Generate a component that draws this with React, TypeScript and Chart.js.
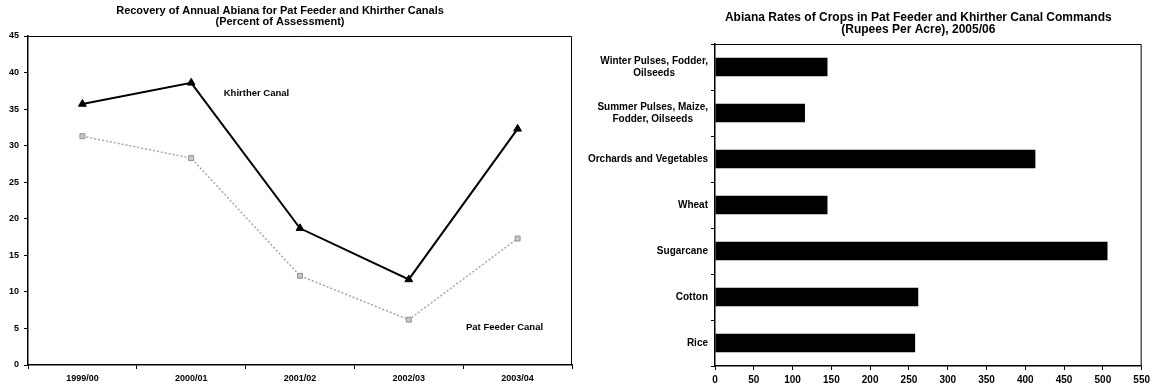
import React, { useEffect, useRef } from "react";
import { Chart, registerables } from "chart.js";

Chart.register(...registerables);

// ---------- Data ----------
const years = ["1999/00", "2000/01", "2001/02", "2002/03", "2003/04"];
const khirther = [35.7, 38.6, 18.7, 11.7, 32.3];
const patFeeder = [31.3, 28.3, 12.2, 6.2, 17.3];

const leftTitle = [
  "Recovery of Annual Abiana for Pat Feeder and Khirther Canals",
  "(Percent of Assessment)",
];
const rightTitle = [
  "Abiana Rates of Crops in Pat Feeder and Khirther Canal Commands",
  "(Rupees Per Acre), 2005/06",
];

const crops = [
  ["Winter Pulses, Fodder,", "Oilseeds"],
  ["Summer Pulses, Maize,", "Fodder, Oilseeds"],
  ["Orchards and Vegetables"],
  ["Wheat"],
  ["Sugarcane"],
  ["Cotton"],
  ["Rice"],
];
const rates = [145, 116, 413, 145, 506, 262, 258];

// ---------- Styling ----------
const FAMILY = "'Liberation Sans', Arial, sans-serif";
const tickFontL = { family: FAMILY, size: 9, weight: "bold" as const };
const tickFontR = { family: FAMILY, size: 10, weight: "bold" as const };

function framePlugin(id: string) {
  return {
    id,
    afterDraw(chart: any) {
      const { ctx, chartArea } = chart;
      ctx.save();
      ctx.strokeStyle = "#000";
      ctx.lineWidth = 1;
      ctx.beginPath();
      ctx.moveTo(chartArea.left, chartArea.top + 0.5);
      ctx.lineTo(chartArea.right - 0.5, chartArea.top + 0.5);
      ctx.lineTo(chartArea.right - 0.5, chartArea.bottom);
      ctx.stroke();
      ctx.restore();
    },
  };
}

function titlePlugin(id: string, lines: string[], y0: number, size: number, dx: number, lh: number) {
  return {
    id,
    afterDraw(chart: any) {
      const { ctx, chartArea } = chart;
      ctx.save();
      ctx.fillStyle = "#000";
      ctx.font = `bold ${size}px ${FAMILY}`;
      ctx.textAlign = "center";
      ctx.textBaseline = "middle";
      const cx = (chartArea.left + chartArea.right) / 2 + dx;
      lines.forEach((l, i) => ctx.fillText(l, cx, y0 + i * lh));
      ctx.restore();
    },
  };
}

const lineNotes = [
  { text: "Khirther Canal", x: 1.6, y: 37.2 },
  { text: "Pat Feeder Canal", x: 3.88, y: 5.1 },
];

const notePlugin = {
  id: "notes",
  afterDraw(chart: any) {
    const { ctx, scales } = chart;
    ctx.save();
    ctx.fillStyle = "#000";
    ctx.font = `bold 9.5px ${FAMILY}`;
    ctx.textAlign = "center";
    ctx.textBaseline = "middle";
    lineNotes.forEach((n) => {
      ctx.fillText(n.text, scales.x.getPixelForValue(n.x), scales.y.getPixelForValue(n.y));
    });
    ctx.restore();
  },
};

const cropLabelPlugin = {
  id: "cropLabels",
  afterDraw(chart: any) {
    const { ctx, scales, chartArea } = chart;
    ctx.save();
    ctx.fillStyle = "#000";
    ctx.font = `bold 10px ${FAMILY}`;
    ctx.textAlign = "center";
    ctx.textBaseline = "middle";
    const right = chartArea.left - 7;
    crops.forEach((lines, i) => {
      const yc = scales.y.getPixelForValue(i);
      const w = Math.max(...lines.map((l) => ctx.measureText(l).width));
      const cx = right - w / 2;
      const lh = 12;
      const top = yc - ((lines.length - 1) * lh) / 2;
      lines.forEach((l, j) => ctx.fillText(l, cx, top + j * lh));
    });
    ctx.restore();
  },
};

export default function App() {
  const leftRef = useRef<HTMLCanvasElement>(null);
  const rightRef = useRef<HTMLCanvasElement>(null);

  useEffect(() => {
    const left = new Chart(leftRef.current!, {
      type: "line",
      data: {
        labels: years,
        datasets: [
          {
            label: "Khirther Canal",
            data: khirther,
            borderColor: "#000",
            backgroundColor: "#000",
            borderWidth: 2,
            pointStyle: "triangle",
            pointRadius: 4.5,
            pointBorderWidth: 1,
            tension: 0,
          },
          {
            label: "Pat Feeder Canal",
            data: patFeeder,
            borderColor: "#a8a8a8",
            backgroundColor: "#c8c8c8",
            borderWidth: 1.5,
            borderDash: [2, 2],
            pointStyle: "rect",
            pointRadius: 3.5,
            pointBorderColor: "#909090",
            pointBorderWidth: 1,
            tension: 0,
          },
        ],
      },
      options: {
        animation: false,
        responsive: false,
        layout: { padding: { left: 0, right: 8, top: 36, bottom: 0 } },
        plugins: { legend: { display: false }, tooltip: { enabled: false } },
        scales: {
          x: {
            offset: true,
            grid: { display: true, drawOnChartArea: false, offset: true, tickLength: 4, color: "#000" },
            border: { color: "#000", width: 1.5 },
            ticks: { color: "#000", font: tickFontL, padding: 4, maxRotation: 0 },
            afterFit: (s: any) => { s.height = 22; },
          },
          y: {
            min: 0,
            max: 45,
            ticks: { stepSize: 5, color: "#000", font: tickFontL, padding: 5 },
            grid: { drawOnChartArea: false, tickLength: 4, color: "#000" },
            border: { color: "#000", width: 1.5 },
            afterFit: (s: any) => { s.width = 28; },
          },
        },
      } as any,
      plugins: [framePlugin("frameL"), titlePlugin("titleL", leftTitle, 11, 11, -20, 11), notePlugin],
    });

    const right = new Chart(rightRef.current!, {
      type: "bar",
      data: {
        labels: crops.map((c) => c.join(" ")),
        datasets: [
          {
            label: "Rupees Per Acre",
            data: rates,
            backgroundColor: "#000",
            borderWidth: 0,
            barPercentage: 0.8,
            categoryPercentage: 0.5,
          },
        ],
      },
      options: {
        indexAxis: "y",
        animation: false,
        responsive: false,
        layout: { padding: { left: 0, right: 11, top: 44, bottom: 0 } },
        plugins: { legend: { display: false }, tooltip: { enabled: false } },
        scales: {
          x: {
            min: 0,
            max: 550,
            ticks: { stepSize: 50, color: "#000", font: tickFontR, padding: 4, maxRotation: 0 },
            grid: { drawOnChartArea: false, tickLength: 4, color: "#000" },
            border: { color: "#000", width: 1.5 },
            afterFit: (s: any) => { s.height = 21; },
          },
          y: {
            ticks: { display: false },
            grid: { drawOnChartArea: false, offset: true, tickLength: 4, color: "#000" },
            border: { color: "#000", width: 1.5 },
            afterFit: (s: any) => { s.width = 135; },
          },
        },
      } as any,
      plugins: [framePlugin("frameR"), titlePlugin("titleR", rightTitle, 18, 12, -10, 12), cropLabelPlugin],
    });

    return () => {
      left.destroy();
      right.destroy();
    };
  }, []);

  return (
    <div style={{ position: "absolute", left: 0, top: 0, width: 1154, height: 387, background: "#fff" }}>
      <canvas ref={leftRef} width={580} height={387} style={{ position: "absolute", left: 0, top: 0 }} />
      <canvas ref={rightRef} width={574} height={387} style={{ position: "absolute", left: 580, top: 0 }} />
    </div>
  );
}
